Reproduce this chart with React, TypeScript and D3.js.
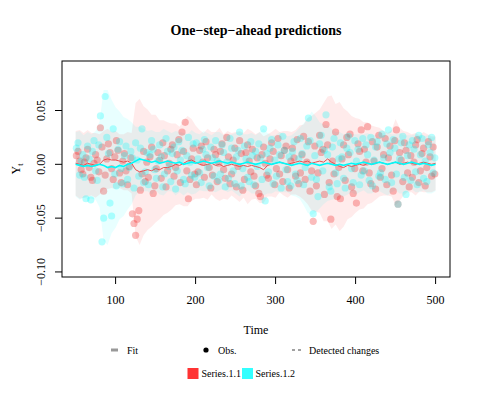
import React from 'react';
import * as d3 from 'd3';

document.body.style.margin = '0';

// time index of the observations (every second step) and of the fitted curves
const obsTime = d3.range(51, 500, 2);
const fitTime = d3.range(50, 501, 5);

// observations, in thousandths
const obs1 = [
  8, 12, 3, -5, -9, 2, 6, 14, -3, -12, -15, 1, 9, 4, -7,
  34, 16, -25, -10, 5, 19, 11, -4, -14, 7, 22, 13, -8, -17, 3,
  10, -6, -19, -2, 6, -46, -55, -66, -51, -43, -24, -9, 12, -16, 2,
  -12, 7, 16, -27, -20, -4, 11, 4, -13, 20, 8, -21, -6, 1, 14,
  18, -11, -3, 9, 23, -17, 30, 12, 39, -6, -32, -14, 5, 15, -9,
  -19, -7, 13, 17, 2, -12, 21, 6, -3, -22, -10, 14, 9, -16, 1,
  12, 19, -5, -13, 25, 7, -18, -9, 4, 15, -21, -2, 22, 10, -24,
  -14, 11, 18, 3, -7, 14, -11, -20, 6, -27, -30, 9, 16, 1, -10,
  -13, 5, 20, 12, -19, -4, 24, -9, 8, -16, 13, 17, -5, -22, 3,
  15, 6, -11, 23, -18, -8, 9, 26, -14, 2, 21, -25, -6, -53, 17,
  -20, -8, 27, 11, 14, -28, 37, 18, -17, -51, 3, -9, 30, -30, -3,
  -32, 5, 18, -15, 25, 9, 28, -21, -27, -4, -36, 19, 12, 32, -6,
  14, 2, 35, -8, -18, 21, 3, -23, 16, 27, -12, -4, 9, 24, -19,
  6, 17, -10, -25, 22, 32, -37, 11, 4, -16, 20, 13, -8, -21, 8,
  -12, 2, 18, 23, -17, -6, 10, 15, -20, -3, 21, 7, -11, 16, -9,
];
const obs2 = [
  15, 20, -10, 3, 9, -12, -32, 17, 5, -33, 12, 22, -6, -15, 18,
  45, -72, -50, 63, 25, 10, -36, -48, 33, -9, -20, 14, 21, -4, -18,
  8, 17, -14, -3, 12, 6, -22, 20, 4, -11, 15, 33, -17, -7, 11,
  -19, 9, 22, 14, -5, -13, 3, 18, 7, -21, -9, 24, 12, -2, -16,
  10, 16, -23, -6, 21, 4, 13, -14, -18, 8, 25, 2, -10, 19, -12,
  20, 5, -8, -17, 14, 23, 9, -3, -20, 16, 6, -11, 22, 3, -15,
  -9, 18, 11, -21, 2, -13, 24, 15, -6, -18, 7, 13, 30, -20, -4,
  17, 5, -12, -16, 21, 8, -19, 12, -2, 19, 6, -14, 33, -34, 10,
  -7, 15, 23, -18, 4, -11, 18, 9, -22, 26, 13, -5, -16, 7, -20,
  12, 21, -9, -15, 5, 24, 10, -19, -3, 17, 43, 22, -12, -46, 8,
  -14, -30, 19, 27, -6, 13, 46, 9, -21, -25, 16, 24, -8, -18, 5,
  20, 7, -13, -22, 15, 26, 11, -4, -17, 22, 3, 14, -19, -10, 24,
  -6, 18, 9, -15, 25, -20, 4, 16, 21, -11, -8, 28, 6, -14, 19,
  32, 11, -17, 23, 15, -9, -37, 5, 20, 26, -12, -28, 8, 18, -15,
  22, 14, -7, -19, 27, 9, 24, -13, 3, -16, 18, 11, 25, -8, 6,
];

// one-step-ahead fit, in thousandths
const fit1 = [
  1, 0, -1, 1, 0, -1, 0, 4, 5, 4,
  4, 3, 2, 3, 1, -5, -7, -6, -5, -6,
  -4, -5, -3, -3, -2, 0, -1, 1, 3, 4,
  2, 0, -1, 0, 1, -1, 0, -2, -1, 0,
  -1, -2, -1, -2, -1, -2, -3, -5, -1, 0,
  1, 2, 1, 0, 1, 2, 3, 2, 3, 1,
  2, 3, 2, 5, 2, 0, -2, -3, -1, -2,
  -1, 0, -1, 1, 0, 1, 2, 1, 0, 1,
  2, 0, 1, 2, 1, 0, 1, 2, 1, 0,
  1,
];
const fit2 = [
  0, -1, -2, -1, -2, -1, 0, -1, -3, -2,
  -3, -1, -2, 0, 1, 3, 5, 4, 3, 2,
  3, 1, 2, 3, 2, 1, 2, 0, 1, 2,
  1, 2, 3, 2, 1, 2, 3, 2, 1, 2,
  1, 0, 1, 2, 1, 0, 1, 2, 1, 0,
  1, 2, 1, 0, -1, 0, 1, 0, -1, 1,
  0, -1, 0, 1, 0, -1, 0, -1, 0, 1,
  0, 1, 2, 1, 0, 1, 2, 1, 0, 1,
  2, 1, 0, 1, 2, 1, 0, 1, 0, -1,
  0,
];

// half width of the credible band, in thousandths
const spread1 = [
  30, 32, 30, 31, 29, 30, 28, 27, 28, 26,
  27, 25, 26, 27, 28, 62, 68, 60, 56, 52,
  50, 46, 44, 42, 40, 38, 36, 40, 42, 38,
  34, 32, 30, 33, 29, 31, 34, 30, 32, 29,
  31, 33, 30, 35, 32, 30, 33, 31, 29, 30,
  32, 28, 30, 31, 29, 30, 33, 35, 40, 44,
  46, 48, 55, 58, 62, 56, 60, 55, 50, 47,
  44, 42, 40, 38, 36, 34, 32, 30, 29, 31,
  40, 34, 30, 28, 27, 29, 26, 28, 27, 26,
  25,
];
const spread2 = [
  30, 32, 29, 31, 30, 32, 40, 70, 72, 62,
  56, 50, 46, 42, 38, 32, 30, 29, 28, 30,
  27, 29, 31, 28, 27, 30, 28, 29, 27, 30,
  28, 26, 28, 27, 26, 28, 27, 25, 27, 26,
  28, 30, 27, 26, 28, 27, 29, 31, 28, 27,
  26, 28, 27, 26, 28, 30, 33, 38, 44, 48,
  45, 40, 37, 35, 33, 31, 30, 29, 28, 27,
  28, 27, 26, 28, 27, 26, 27, 28, 29, 27,
  26, 28, 27, 26, 25, 27, 26, 25, 27, 26,
  25,
];

const xTicks = [100, 200, 300, 400, 500];
const yTicks = [0.05, 0, -0.05, -0.1];
const seriesNames = ['Series.1.1', 'Series.1.2'];

const W = 481;
const H = 401;
const m = { top: 61, right: 31, bottom: 124, left: 62 };
const font = '"Liberation Serif", "DejaVu Serif", serif';

const series = [
  { name: seriesNames[0], obs: obs1, fit: fit1, spread: spread1, band: 'rgba(255,0,0,0.08)', dot: 'rgb(240,30,30)', dotOp: 0.3, line: 'rgb(232,80,80)', lw: 1 },
  { name: seriesNames[1], obs: obs2, fit: fit2, spread: spread2, band: 'rgba(0,255,255,0.09)', dot: 'rgb(0,250,250)', dotOp: 0.28, line: 'rgb(0,250,250)', lw: 1.6 },
];

export default function App() {
  const x = d3.scaleLinear().domain([33, 518]).range([m.left, W - m.right]);
  const y = d3.scaleLinear().domain([-0.1047, 0.096]).range([H - m.bottom, m.top]);

  const fmtY = (v: number) => (v < 0 ? '\u2212' : '') + d3.format('.2f')(Math.abs(v));

  return (
    <svg width={W} height={H} style={{ display: 'block', background: '#fff' }} fontFamily={font}>
      {series.map((s) => {
        const area = d3.area<number>()
          .x((_, i) => x(fitTime[i]))
          .y0((d, i) => y((d - s.spread[i]) / 1000))
          .y1((d, i) => y((d + s.spread[i]) / 1000));
        return <path key={'band' + s.name} d={area(s.fit) || ''} fill={s.band} stroke="none" />;
      })}
      {series.map((s) => (
        <g key={'obs' + s.name} fill={s.dot} fillOpacity={s.dotOp}>
          {s.obs.map((v, i) => (
            <circle key={i} cx={x(obsTime[i])} cy={y(v / 1000)} r={3.6} />
          ))}
        </g>
      ))}
      {series.map((s) => {
        const line = d3.line<number>()
          .x((_, i) => x(fitTime[i]))
          .y((d) => y(d / 1000));
        return <path key={'fit' + s.name} d={line(s.fit) || ''} fill="none" stroke={s.line} strokeWidth={s.lw} />;
      })}

      <rect x={m.left} y={m.top} width={W - m.left - m.right} height={H - m.top - m.bottom} fill="none" stroke="#000" strokeWidth={1} />

      {xTicks.map((t) => (
        <g key={'x' + t}>
          <line x1={x(t)} x2={x(t)} y1={H - m.bottom} y2={H - m.bottom + 7} stroke="#000" />
          <text x={x(t)} y={H - m.bottom + 27} fontSize={12} textAnchor="middle">{t}</text>
        </g>
      ))}
      {yTicks.map((t) => (
        <g key={'y' + t}>
          <line x1={m.left - 7} x2={m.left} y1={y(t)} y2={y(t)} stroke="#000" />
          <text transform={`translate(${m.left - 17},${y(t)}) rotate(-90)`} fontSize={12} textAnchor="middle">{fmtY(t)}</text>
        </g>
      ))}

      <text x={(m.left + W - m.right) / 2} y={35} fontSize={14} fontWeight="bold" textAnchor="middle">One{'\u2212'}step{'\u2212'}ahead predictions</text>
      <text x={(m.left + W - m.right) / 2} y={334} fontSize={12} textAnchor="middle">Time</text>
      <text transform={`translate(20,${(m.top + H - m.bottom) / 2}) rotate(-90)`} fontSize={12} textAnchor="middle">
        Y<tspan fontSize={8} dy={3}>t</tspan>
      </text>

      <g fontSize={10}>
        <line x1={111} x2={118} y1={350} y2={350} stroke="#999" strokeWidth={3} />
        <text x={127} y={353.5}>Fit</text>
        <circle cx={206} cy={350} r={2.6} fill="#000" />
        <text x={218} y={353.5}>Obs.</text>
        <line x1={292} x2={301} y1={350} y2={350} stroke="#444" strokeWidth={1} strokeDasharray="3,3" />
        <text x={309} y={353.5}>Detected changes</text>

        <rect x={187.5} y={368} width={11} height={11} fill="#ff3333" />
        <text x={201.5} y={377}>{seriesNames[0]}</text>
        <rect x={242} y={368} width={11} height={11} fill="#33ffff" />
        <text x={255.5} y={377}>{seriesNames[1]}</text>
      </g>
    </svg>
  );
}
